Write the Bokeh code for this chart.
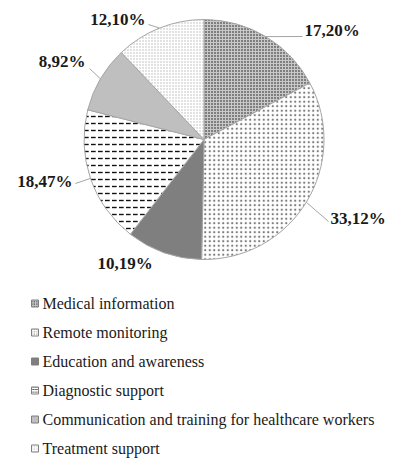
import math
from bokeh.plotting import figure
from bokeh.models import Range1d
from bokeh.core.properties import value
from bokeh.embed import file_html
from bokeh.resources import INLINE

# ---------------- data ----------------
categories = ["Medical information", "Remote monitoring", "Education and awareness",
              "Diagnostic support", "Communication and training for healthcare workers",
              "Treatment support"]
shares = [17.20, 33.12, 10.19, 18.47, 8.92, 12.10]
labels = ["17,20%", "33,12%", "10,19%", "18,47%", "8,92%", "12,10%"]

# ---------------- styles / layout ----------------
W, H = 387, 459
FONT = value("Liberation Serif")
fills = ["#c8c8c8", "white", "#7f7f7f", "white", "#bfbfbf", "white"]
hatches = ["dot", "dot", " ", "horizontal_dash", " ", "dot"]
hatch_colors = ["#111111", "#7a7a7a", None, "#111111", None, "#b5b5b5"]
hatch_scales = [3.0, 4.5, 1.0, 7.0, 1.0, 3.0]
hatch_weights = [1.0, 1.0, 1.0, 1.4, 1.0, 1.0]

CX, CY, R = 203.5, 139.0, 120.0   # pie centre/radius in picture px (y downward)
label_pos = [(304, 30, "left"), (330, 218, "left"), (97, 263, "left"),
             (72, 181, "right"), (85, 61, "right"), (145, 19, "right")]
leader_end = [(302, 36), (328, 221), None, (75, 183), (89, 68), (148, 24)]
legend_y0, legend_dy = 303.0, 29.0
legend_mx, legend_tx = 34.5, 42.0

def Y(y):  # picture px (downward) -> data y (upward)
    return H - y

p = figure(width=W, height=H, output_backend="svg", toolbar_location=None,
           x_range=Range1d(0, W), y_range=Range1d(0, H),
           min_border=0, outline_line_color=None)
p.axis.visible = False
p.grid.visible = False
p.background_fill_color = "white"
p.border_fill_color = "white"

total = sum(shares)
cum = 0.0
for i, s in enumerate(shares):
    a0 = math.pi / 2 - 2 * math.pi * cum / total
    cum += s
    a1 = math.pi / 2 - 2 * math.pi * cum / total
    kw = dict(x=CX, y=Y(CY), radius=R, start_angle=a0, end_angle=a1,
              direction="clock", fill_color=fills[i], line_color="#a6a6a6",
              line_width=1)
    if hatches[i] != " ":
        kw.update(hatch_pattern=hatches[i], hatch_color=hatch_colors[i],
                  hatch_scale=hatch_scales[i], hatch_weight=hatch_weights[i])
    p.wedge(**kw)

    am = math.pi / 2 - 2 * math.pi * (cum - s / 2) / total
    ex, ey = CX + R * math.cos(am), Y(CY) + R * math.sin(am)
    if leader_end[i] is not None:
        lx, ly = leader_end[i]
        p.line([ex, lx], [ey, Y(ly)], line_color="#a6a6a6", line_width=1)
    tx, ty, al = label_pos[i]
    p.text(x=[tx], y=[Y(ty)], text=[labels[i]], text_font=FONT,
           text_font_style="bold", text_font_size="17px", text_color="#1a1a1a",
           text_align=al, text_baseline="middle")

# legend
for i, c in enumerate(categories):
    ly = legend_y0 + i * legend_dy
    kw = dict(x=legend_mx, y=Y(ly), width=7, height=7, fill_color=fills[i],
              line_color="#7f7f7f", line_width=1)
    if hatches[i] != " ":
        kw.update(hatch_pattern=hatches[i], hatch_color=hatch_colors[i],
                  hatch_scale=2.5, hatch_weight=0.8)
    p.rect(**kw)
    p.text(x=[legend_tx], y=[Y(ly)], text=[c], text_font=FONT,
           text_font_size="16px", text_color="#1a1a1a", text_align="left",
           text_baseline="middle")

open("out.html", "w").write(file_html(p, INLINE))
